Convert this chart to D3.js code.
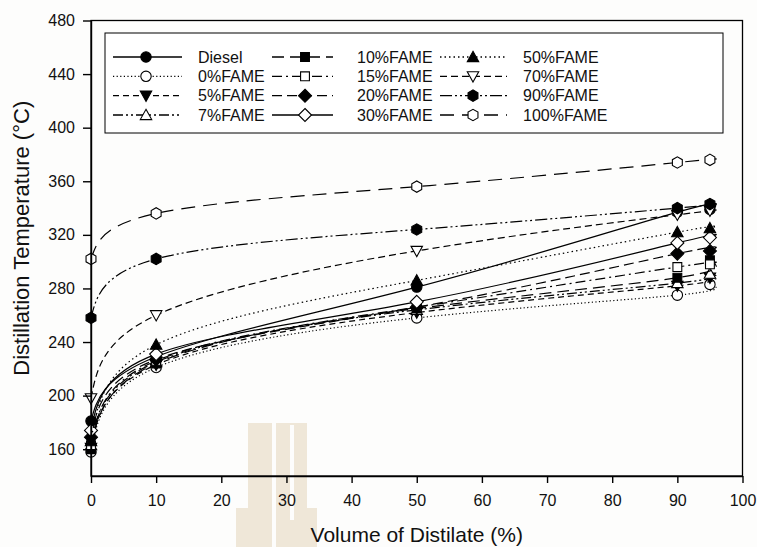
<!DOCTYPE html>
<html>
<head>
<meta charset="utf-8">
<script src="https://cdn.jsdelivr.net/npm/d3@7"></script>
<style>
  body { margin: 0; background: #fdfdfc; }
  text { font-family: Arial, "Liberation Sans", sans-serif; }
</style>
</head>
<body>
<div id="wrapper"></div>
<script>
// Data
const volumes = [0, 10, 50, 90, 95]
const seriesNames = ["Diesel", "0%FAME", "5%FAME", "7%FAME", "10%FAME", "15%FAME",
  "20%FAME", "30%FAME", "50%FAME", "70%FAME", "90%FAME", "100%FAME"]
const diesel = [181, 229, 281, 337, 339]
const fame0 = [158, 221, 258, 275, 283]
const fame5 = [161, 223, 262, 282, 288]
const fame7 = [163, 225, 264, 284, 291]
const fame10 = [160, 224, 265, 288, 301]
const fame15 = [163, 226, 266, 296, 298]
const fame20 = [169, 227, 266, 306, 308]
const fame30 = [174, 231, 270, 314, 318]
const fame50 = [166, 238, 286, 322, 325]
const fame70 = [198, 260, 308, 335, 338]
const fame90 = [258, 302, 324, 340, 343]
const fame100 = [302, 336, 356, 374, 376]
const xTicks = [0, 10, 20, 30, 40, 50, 60, 70, 80, 90, 100]
const yTicks = [160, 200, 240, 280, 320, 360, 400, 440, 480]

const allValues = [diesel, fame0, fame5, fame7, fame10, fame15,
  fame20, fame30, fame50, fame70, fame90, fame100]

// line style + marker for each series
const styles = [
  { dash: null, shape: "circle", fill: "black" },
  { dash: "1.2,2.4", shape: "circle", fill: "white" },
  { dash: "6,4", shape: "triDown", fill: "black" },
  { dash: "10,3,2,3,2,3", shape: "triUp", fill: "white" },
  { dash: "12,6", shape: "square", fill: "black" },
  { dash: "10,4,2,4", shape: "square", fill: "white" },
  { dash: "10,5", shape: "diamond", fill: "black" },
  { dash: null, shape: "diamond", fill: "white" },
  { dash: "1.5,3", shape: "triUp", fill: "black" },
  { dash: "7,4", shape: "triDown", fill: "white" },
  { dash: "12,3,2,3,2,3", shape: "hexagon", fill: "black" },
  { dash: "14,8", shape: "hexagon", fill: "white" },
]

const dataset = seriesNames.map((name, i) => ({
  name: name,
  style: styles[i],
  points: volumes.map((v, j) => ({ x: v, y: allValues[i][j] })),
}))

const xAccessor = d => d.x
const yAccessor = d => d.y

let dimensions = {
  width: 757,
  height: 547,
  margin: { top: 20.5, right: 14.5, bottom: 71, left: 91 },
}
dimensions.boundedWidth = dimensions.width - dimensions.margin.left - dimensions.margin.right
dimensions.boundedHeight = dimensions.height - dimensions.margin.top - dimensions.margin.bottom

const wrapper = d3.select("#wrapper")
  .append("svg")
  .attr("width", dimensions.width)
  .attr("height", dimensions.height)

// faint watermark behind the plot
const mark = wrapper.append("g").attr("fill", "#efe7d8")
mark.append("rect").attr("x", 248).attr("y", 423).attr("width", 24).attr("height", 124)
mark.append("rect").attr("x", 276).attr("y", 423).attr("width", 31).attr("height", 124)
mark.append("rect").attr("x", 290).attr("y", 425).attr("width", 4).attr("height", 95).attr("fill", "#fdfdfc")
mark.append("rect").attr("x", 236).attr("y", 508).attr("width", 12).attr("height", 39)
mark.append("rect").attr("x", 307).attr("y", 508).attr("width", 10).attr("height", 39)

const bounds = wrapper.append("g")
  .attr("transform", `translate(${dimensions.margin.left}, ${dimensions.margin.top})`)

// Scales
const xScale = d3.scaleLinear()
  .domain([0, 100])
  .range([0, dimensions.boundedWidth])

const yScale = d3.scaleLinear()
  .domain([140, 480])
  .range([dimensions.boundedHeight, 0])

// Marker paths
function markerPath(shape, r) {
  if (shape === "circle") return d3.symbol(d3.symbolCircle, Math.PI * r * r)()
  if (shape === "square") return d3.symbol(d3.symbolSquare, (r * 1.7) ** 2)()
  if (shape === "diamond") {
    const s = r * 1.25
    return `M0,${-s}L${s},0L0,${s}L${-s},0Z`
  }
  if (shape === "triUp" || shape === "triDown") {
    const k = shape === "triUp" ? 1 : -1
    const h = r * 1.1
    return `M0,${-h * k}L${h},${h * 0.8 * k}L${-h},${h * 0.8 * k}Z`
  }
  if (shape === "hexagon") {
    const pts = d3.range(6).map(i => {
      const a = Math.PI / 6 + i * Math.PI / 3
      return [Math.cos(a) * r * 1.1, Math.sin(a) * r * 1.1]
    })
    return "M" + pts.map(p => p.join(",")).join("L") + "Z"
  }
}

// Lines
const lineGenerator = d3.line()
  .x(d => xScale(xAccessor(d)))
  .y(d => yScale(yAccessor(d)))
  .curve(d3.curveNatural)

const series = bounds.selectAll(".series")
  .data(dataset)
  .enter().append("g")
  .attr("class", "series")

series.append("path")
  .attr("d", d => lineGenerator(d.points))
  .attr("fill", "none")
  .attr("stroke", "black")
  .attr("stroke-width", 1.2)
  .attr("stroke-dasharray", d => d.style.dash)

series.selectAll("path.marker")
  .data(d => d.points.map(p => ({ ...p, style: d.style })))
  .enter().append("path")
  .attr("class", "marker")
  .attr("transform", d => `translate(${xScale(xAccessor(d))}, ${yScale(yAccessor(d))})`)
  .attr("d", d => markerPath(d.style.shape, 5.2))
  .attr("fill", d => d.style.fill)
  .attr("stroke", "black")
  .attr("stroke-width", 1.1)

// Frame
bounds.append("rect")
  .attr("width", dimensions.boundedWidth)
  .attr("height", dimensions.boundedHeight)
  .attr("fill", "none")
  .attr("stroke", "black")
  .attr("stroke-width", 1.3)

// Axes
const xAxisGenerator = d3.axisBottom()
  .scale(xScale)
  .tickValues(xTicks)
  .tickSize(7)
  .tickPadding(12)
  .tickSizeOuter(0)

const xAxis = bounds.append("g")
  .call(xAxisGenerator)
  .attr("transform", `translate(0, ${dimensions.boundedHeight})`)

const yAxisGenerator = d3.axisLeft()
  .scale(yScale)
  .tickValues(yTicks)
  .tickSize(8)
  .tickPadding(8)
  .tickSizeOuter(0)

const yAxis = bounds.append("g")
  .call(yAxisGenerator)

bounds.selectAll(".tick text")
  .style("font-size", "16px")
  .style("font-family", "Arial, 'Liberation Sans', sans-serif")
  .attr("fill", "#111")
bounds.selectAll(".domain, .tick line")
  .attr("stroke", "black")
  .attr("stroke-width", 1.4)

xAxis.append("text")
  .attr("x", dimensions.boundedWidth / 2)
  .attr("y", dimensions.margin.bottom - 5)
  .attr("fill", "#111")
  .style("font-size", "21px")
  .style("text-anchor", "middle")
  .text("Volume of Distilate (%)")

yAxis.append("text")
  .attr("transform", `translate(${-dimensions.margin.left + 29}, ${dimensions.boundedHeight / 2 - 10}) rotate(-90)`)
  .attr("fill", "#111")
  .style("font-size", "22px")
  .style("text-anchor", "middle")
  .text("Distillation Temperature (°C)")

// Legend
const legend = wrapper.append("g")

legend.append("rect")
  .attr("x", 105)
  .attr("y", 33)
  .attr("width", 618)
  .attr("height", 100)
  .attr("fill", "white")
  .attr("stroke", "black")
  .attr("stroke-width", 1)

const legendCols = [
  { x1: 113, x2: 182, mx: 146, tx: 198 },
  { x1: 272, x2: 333, mx: 305, tx: 357 },
  { x1: 440, x2: 507, mx: 473, tx: 523 },
]
const legendRowY = d3.scaleLinear().domain([0, 3]).range([57, 115])

const legendItems = legend.selectAll(".item")
  .data(dataset)
  .enter().append("g")
  .attr("class", "item")
  .attr("transform", (d, i) => `translate(0, ${legendRowY(i % 4)})`)

legendItems.append("line")
  .attr("x1", (d, i) => legendCols[Math.floor(i / 4)].x1)
  .attr("x2", (d, i) => legendCols[Math.floor(i / 4)].x2)
  .attr("stroke", "black")
  .attr("stroke-width", 1.3)
  .attr("stroke-dasharray", d => d.style.dash)

legendItems.append("path")
  .attr("transform", (d, i) => `translate(${legendCols[Math.floor(i / 4)].mx}, 0)`)
  .attr("d", d => markerPath(d.style.shape, 5.2))
  .attr("fill", d => d.style.fill)
  .attr("stroke", "black")
  .attr("stroke-width", 1.1)

legendItems.append("text")
  .attr("x", (d, i) => legendCols[Math.floor(i / 4)].tx)
  .attr("dy", "0.36em")
  .attr("fill", "#111")
  .style("font-size", "16px")
  .text(d => d.name)
</script>
</body>
</html>
